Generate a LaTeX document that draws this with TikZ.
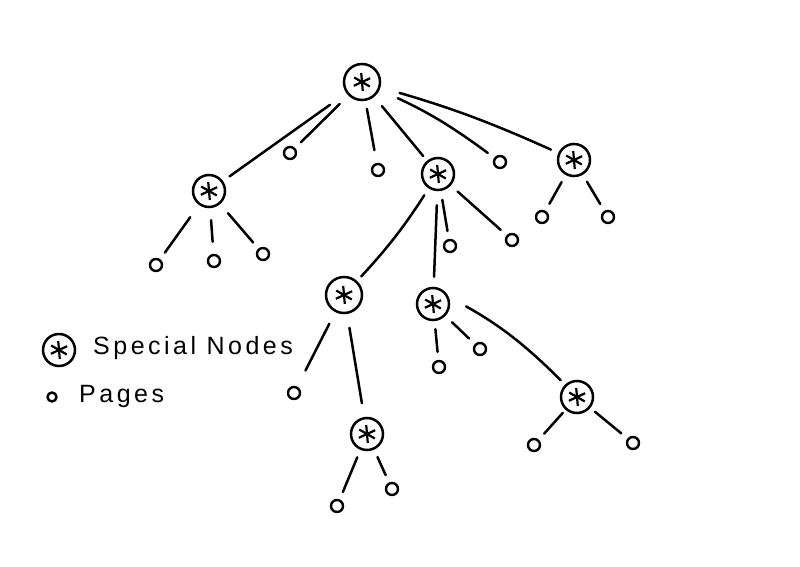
\documentclass[tikz,border=0pt]{standalone}
\usepackage{fontspec}
\setmainfont{Liberation Sans}
\newfontfamily\legendfont[LetterSpace=14]{Liberation Sans}
\begin{document}
\begin{tikzpicture}[
    x=1pt, y=1pt,
    special/.style={circle, draw, line width=2.5pt, minimum size=32pt, inner sep=0pt,
        path picture={\foreach \a in {95,25,150}
            \draw[line width=2.2pt, shift={(path picture bounding box.center)}] (\a:9pt) -- (\a+180:9pt);}},
    page/.style={circle, draw, line width=2.4pt, minimum size=12pt, inner sep=0pt},
    link/.style={line width=2.5pt, line cap=round, shorten <=12pt, shorten >=8pt},
    legendtext/.style={font=\legendfont\fontsize{25}{29}\selectfont, anchor=west, inner sep=0pt}
]
    \useasboundingbox (0,0) rectangle (800,566);

    \node[special, minimum size=36pt] (root) at (362,484) {};
    \node[special] (s1) at (209,375) {};
    \node[special] (s2) at (438,392) {};
    \node[special] (s3) at (574,406) {};
    \node[special, minimum size=36pt] (s4) at (344,271) {};
    \node[special] (s5) at (433,262) {};
    \node[special] (s6) at (577,169) {};
    \node[special] (s7) at (367,132) {};

    \node[page] (p1) at (290,413) {};
    \node[page] (p2) at (378,396) {};
    \node[page] (p3) at (500,404) {};
    \node[page] (p11) at (156,301) {};
    \node[page] (p12) at (214,305) {};
    \node[page] (p13) at (263,312) {};
    \node[page] (p21) at (450,320) {};
    \node[page] (p22) at (512,326) {};
    \node[page] (p31) at (542,349) {};
    \node[page] (p32) at (608,349) {};
    \node[page] (p41) at (294,173) {};
    \node[page] (p51) at (439,199) {};
    \node[page] (p52) at (480,217) {};
    \node[page] (p61) at (534,121) {};
    \node[page] (p62) at (633,123) {};
    \node[page] (p71) at (337,60) {};
    \node[page] (p72) at (392,77) {};

    \draw[link, shorten <=20pt] (root) -- (s1);
    \draw[link] (root) -- (p1);
    \draw[link, shorten <=8pt, shorten >=13pt] (root) -- (p2);
    \draw[link, shorten >=6pt] (root) -- (s2);
    \draw[link, shorten <=20pt] (root) to[bend left=6] (p3);
    \draw[link, shorten <=20pt] (root) to[bend left=4] (s3);

    \draw[link, shorten <=15pt] (s1) -- (p11);
    \draw[link, shorten >=12pt] (s1) -- (p12);
    \draw[link] (s1) -- (p13);

    \draw[link, shorten <=8pt, shorten >=6pt] (s2) to[bend left=5] (s4);
    \draw[link, shorten <=14pt, shorten >=10pt] (s2) -- (s5);
    \draw[link, shorten <=9pt] (s2) -- (p21);
    \draw[link, shorten <=9pt] (s2) -- (p22);

    \draw[link, shorten <=8pt] (s3) -- (p31);
    \draw[link, shorten <=8pt] (s3) -- (p32);

    \draw[link, shorten <=13pt, shorten >=18pt] (s4) -- (p41);
    \draw[link, shorten <=14pt, shorten >=14pt] (s4) -- (s7);

    \draw[link, shorten <=8pt] (s5) -- (p51);
    \draw[link, shorten <=9pt] (s5) -- (p52);
    \draw[link, shorten <=20pt, shorten >=6pt] (s5.25) to[bend left=8] (s6);

    \draw[link, shorten <=4pt] (s6) -- (p61);
    \draw[link, shorten <=6pt] (s6) -- (p62);

    \draw[link, shorten <=8pt] (s7) -- (p71);
    \draw[link, shorten <=8pt] (s7) -- (p72);

    \node[special] (keyspecial) at (59,216) {};
    \node[legendtext] (keyspecialtext) at (93,218) {Special Nodes};
    \node[page, minimum size=9pt] (keypage) at (52,169) {};
    \node[legendtext] (keypagetext) at (79,170) {Pages};
\end{tikzpicture}
\end{document}
